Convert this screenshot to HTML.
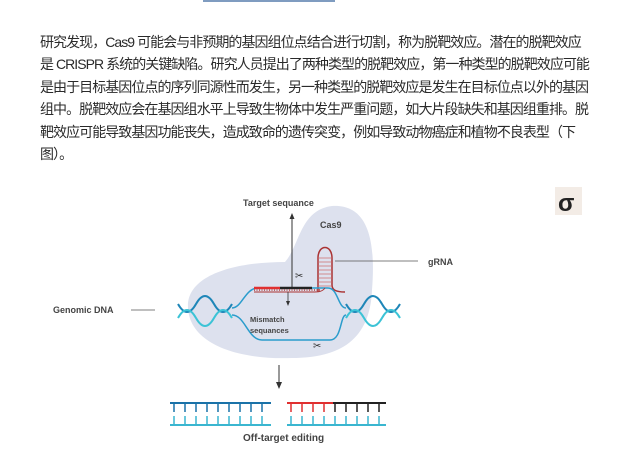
<!DOCTYPE html>
<html><head><meta charset="utf-8"><style>
html,body{margin:0;padding:0;background:#fff;width:620px;height:455px;overflow:hidden}
.t{position:absolute;left:40px;top:31px;font-family:"Liberation Sans","Noto Sans CJK SC",sans-serif;font-size:14px;line-height:22.4px;color:#2a2a2a;white-space:nowrap;letter-spacing:-0.95px}
.bar{position:absolute;left:203px;top:0;width:132px;height:2px;background:#7f9cc0}
svg{position:absolute;left:0;top:0}
svg text{font-family:"Liberation Sans",sans-serif;font-weight:bold;fill:#444}
</style></head><body>
<div class="bar"></div>
<div class="t">研究发现，Cas9 可能会与非预期的基因组位点结合进行切割，称为脱靶效应。潜在的脱靶效应<br>是 CRISPR 系统的关键缺陷。研究人员提出了两种类型的脱靶效应，第一种类型的脱靶效应可能<br>是由于目标基因位点的序列同源性而发生，另一种类型的脱靶效应是发生在目标位点以外的基因<br>组中。脱靶效应会在基因组水平上导致生物体中发生严重问题，如大片段缺失和基因组重排。脱<br>靶效应可能导致基因功能丧失，造成致命的遗传突变，例如导致动物癌症和植物不良表型（下<br>图）。</div>
<svg width="620" height="455" viewBox="0 0 620 455">
<rect x="555" y="187" width="27" height="28" fill="#f3ece6"/>
<text x="558" y="211" font-size="24" style="fill:#222">σ</text>
<path d="M188,308 C186,275 235,262 285,262 C300,245 300,210 332,206 C368,204 376,240 372,290 C370,340 340,358 292,358 C240,360 190,345 188,308 Z" fill="#dde1ee"/>
<text x="243" y="206" font-size="9">Target sequance</text>
<line x1="292" y1="289" x2="292" y2="218" stroke="#333" stroke-width="1"/>
<polygon points="292,213 289.5,219 294.5,219" fill="#333"/>
<text x="320" y="228" font-size="9">Cas9</text>
<path d="M318,292 L318,258 C318,244 332,244 332,258 L332,285 C332,290 336,292 345,292" fill="none" stroke="#a33" stroke-width="1.5"/>
<g stroke="#c66" stroke-width="0.7"><line x1="318" y1="258" x2="332" y2="258"/><line x1="318" y1="262" x2="332" y2="262"/><line x1="318" y1="266" x2="332" y2="266"/><line x1="318" y1="270" x2="332" y2="270"/><line x1="318" y1="274" x2="332" y2="274"/><line x1="318" y1="278" x2="332" y2="278"/><line x1="318" y1="282" x2="332" y2="282"/><line x1="318" y1="286" x2="332" y2="286"/></g>
<line x1="335" y1="261" x2="418" y2="261" stroke="#555" stroke-width="0.8"/>
<text x="428" y="265" font-size="9">gRNA</text>
<text x="53" y="313" font-size="9">Genomic DNA</text>
<line x1="131" y1="310" x2="155" y2="310" stroke="#555" stroke-width="0.8"/>
<g fill="none" stroke-width="2">
<path d="M178,304 Q187,320 196,304 T214,304 T232,304" stroke="#1e86b8"/>
<path d="M178,318 Q187,302 196,318 T214,318 T232,318" stroke="#3cc3d6"/>
<path d="M346,304 Q355,320 364,304 T382,304 T400,304" stroke="#1e86b8"/>
<path d="M346,318 Q355,302 364,318 T382,318 T400,318" stroke="#3cc3d6"/>
<path d="M232,308 C242,308 245,288 258,288 L328,288 C338,288 338,308 346,308" stroke="#2a9ccc" stroke-width="1.5"/>
<path d="M232,315 C245,315 248,340 262,340 L330,340 C342,340 340,315 346,315" stroke="#2a9ccc" stroke-width="1.5"/>
</g>
<line x1="254" y1="288" x2="280" y2="288" stroke="#e03030" stroke-width="2.5"/>
<line x1="280" y1="288" x2="312" y2="288" stroke="#222" stroke-width="2.5"/>
<path d="M254,292 L312,292 C318,292 322,292 325,288" fill="none" stroke="#a33" stroke-width="1"/>
<line x1="254" y1="292" x2="320" y2="292" stroke="#b66" stroke-width="2" stroke-dasharray="1,1.5" transform="translate(0,-2)"/>
<line x1="288" y1="292" x2="288" y2="303" stroke="#333" stroke-width="0.8"/>
<polygon points="288,306 286,301 290,301" fill="#333"/>
<text x="250" y="322" font-size="7.5">Mismatch</text>
<text x="250" y="333" font-size="7.5">sequances</text>
<text x="295" y="279" font-size="10" style="fill:#333;font-weight:normal">✂</text>
<text x="313" y="349" font-size="10" style="fill:#333;font-weight:normal">✂</text>
<line x1="279" y1="365" x2="279" y2="384" stroke="#333" stroke-width="1"/>
<polygon points="279,389 276,382 282,382" fill="#333"/>
<g stroke-width="2">
<line x1="170" y1="403" x2="271" y2="403" stroke="#1a72a8"/>
<line x1="170" y1="425" x2="271" y2="425" stroke="#3ab6d0"/>
<line x1="287" y1="403" x2="333" y2="403" stroke="#e03030"/>
<line x1="333" y1="403" x2="386" y2="403" stroke="#222"/>
<line x1="287" y1="425" x2="386" y2="425" stroke="#3ab6d0"/>
</g>
<g stroke-width="1.5">
<path d="M174,403v9M185,403v9M196,403v9M207,403v9M218,403v9M229,403v9M240,403v9M251,403v9M262,403v9" stroke="#1a72a8"/>
<path d="M174,416v9M185,416v9M196,416v9M207,416v9M218,416v9M229,416v9M240,416v9M251,416v9M262,416v9" stroke="#3ab6d0"/>
<path d="M291,403v9M302,403v9M313,403v9M324,403v9" stroke="#e03030"/>
<path d="M335,403v9M346,403v9M357,403v9M368,403v9M379,403v9" stroke="#222"/>
<path d="M291,416v9M302,416v9M313,416v9M324,416v9M335,416v9M346,416v9M357,416v9M368,416v9M379,416v9" stroke="#3ab6d0"/>
</g>
<text x="243" y="441" font-size="10">Off-target editing</text>
</svg>
</body></html>
